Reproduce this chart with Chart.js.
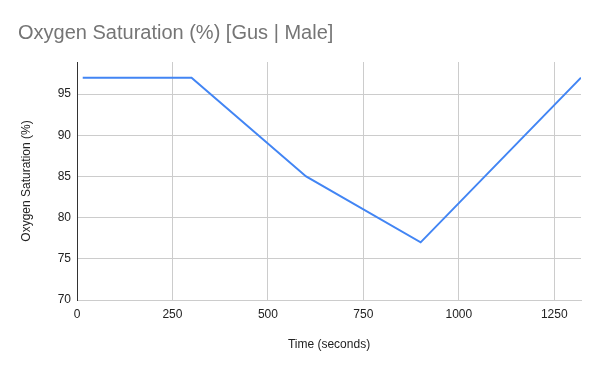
<!DOCTYPE html>
<html lang="en">
<head>
    <meta charset="UTF-8">
    <title>Oxygen Saturation</title>
    <script src="https://cdn.jsdelivr.net/npm/chart.js"></script>
    <style>
        body { margin: 0; background: #fff; }
        #chart-container { width: 600px; height: 371px; }
    </style>
</head>
<body>
    <div id="chart-container">
        <canvas id="o2Chart"></canvas>
    </div>
    <script>
        // readings
        const timeSeconds = [15, 300, 600, 900, 1320];
        const saturation = [97, 97, 85, 77, 97];
        const xTicks = [0, 250, 500, 750, 1000, 1250];
        const yTicks = [70, 75, 80, 85, 90, 95];

        const font = 'Arial, "Liberation Sans", sans-serif';

        const ctx = document.getElementById('o2Chart').getContext('2d');
        new Chart(ctx, {
            type: 'line',
            data: {
                datasets: [{
                    label: 'Oxygen Saturation (%)',
                    data: timeSeconds.map((t, i) => ({ x: t, y: saturation[i] })),
                    borderColor: '#4285F4',
                    borderWidth: 2,
                    pointRadius: 0,
                    tension: 0
                }]
            },
            options: {
                responsive: true,
                maintainAspectRatio: false,
                animation: false,
                layout: { padding: { left: 18, right: 19, top: 0, bottom: 0 } },
                plugins: {
                    legend: { display: false },
                    tooltip: { enabled: false },
                    title: {
                        display: true,
                        text: 'Oxygen Saturation (%) [Gus | Male]',
                        align: 'start',
                        color: '#757575',
                        font: { family: font, size: 20, weight: 'normal' },
                        padding: { top: 21, bottom: 17 }
                    }
                },
                scales: {
                    x: {
                        type: 'linear',
                        min: 0,
                        max: 1320,
                        ticks: {
                            color: '#222', padding: 7, autoSkip: false,
                            font: { family: font, size: 12 },
                            callback: v => String(v)
                        },
                        afterBuildTicks: axis => { axis.ticks = xTicks.map(v => ({ value: v })); },
                        afterFit: axis => { axis.height = 71; },
                        grid: { color: '#cccccc', drawTicks: false },
                        border: { color: '#cccccc' },
                        title: {
                            display: true,
                            text: 'Time (seconds)',
                            color: '#222',
                            font: { family: font, size: 12 },
                            padding: { top: 0, bottom: 19 }
                        }
                    },
                    y: {
                        min: 70,
                        max: 98.9,
                        ticks: {
                            color: '#222', padding: 6, autoSkip: false,
                            font: { family: font, size: 12 },
                            callback: v => String(v)
                        },
                        afterBuildTicks: axis => { axis.ticks = yTicks.map(v => ({ value: v })); },
                        afterFit: axis => { axis.width = 59; },
                        grid: { color: '#cccccc', drawTicks: false },
                        border: { color: '#333333' },
                        title: {
                            display: true,
                            text: 'Oxygen Saturation (%)',
                            color: '#222',
                            font: { family: font, size: 12 },
                            padding: { top: 1, bottom: 0 }
                        }
                    }
                }
            }
        });
    </script>
</body>
</html>
